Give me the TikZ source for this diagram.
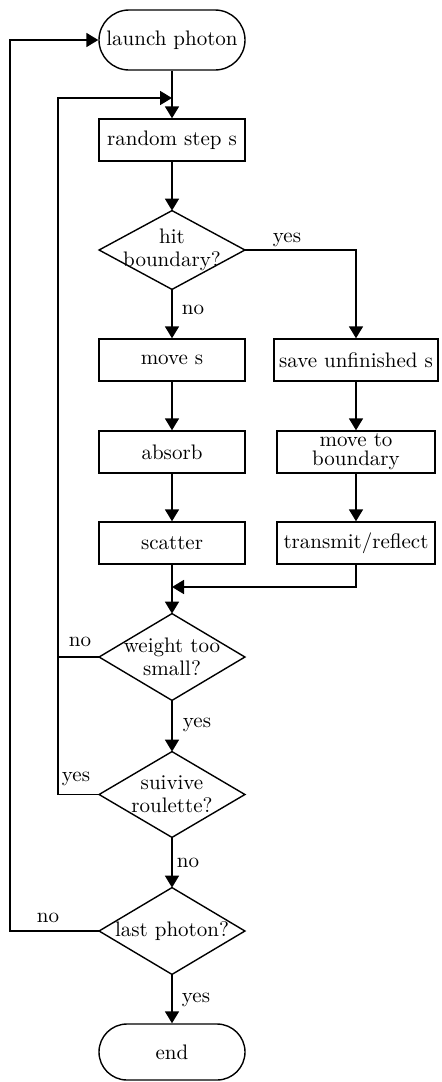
\documentclass[tikz,border=0pt]{standalone}
\usetikzlibrary{arrows.meta}
\begin{document}
\begin{tikzpicture}[x=0.5pt,y=-0.5pt,
  proc/.style={draw, line width=0.7pt, rectangle, minimum width=73pt, minimum height=21pt, inner sep=1pt, align=center, font=\fontsize{10.5}{9.5}\selectfont},
  term/.style={draw, line width=0.7pt, rectangle, rounded corners=15pt, minimum width=73pt, minimum height=30pt, inner sep=1pt, font=\fontsize{10.5}{12}\selectfont},
  decision/.style={minimum width=72.5pt, inner sep=0pt, align=center, font=\fontsize{10.5}{11.5}\selectfont},
  lbl/.style={anchor=base, inner sep=0pt, font=\fontsize{10.5}{12}\selectfont},
  arr/.style={line width=0.9pt, -{Triangle[length=6pt,width=7pt]}},
  plain/.style={line width=0.9pt}]
\useasboundingbox (0,0) rectangle (441,1082);
% nodes
\node[term] (launch) at (172,40) {launch photon};
\node[proc] (rand) at (172,140) {random step s};
\node[decision, minimum height=39pt] (hit) at (172,250) {hit\\boundary?};
\node[proc] (moves) at (172,360) {move s};
\node[proc] (absorb) at (172,452) {absorb};
\node[proc] (scatter) at (172,543) {scatter};
\node[proc, minimum width=82pt] (save) at (356,360) {save unfinished s};
\node[proc, minimum width=79pt] (mtb) at (356,452) {move to\\boundary};
\node[proc, minimum width=79pt] (trans) at (356,543) {transmit/reflect};
\node[decision, minimum height=43pt] (weight) at (172,657) {weight too\\small?};
\node[decision, minimum height=42.5pt] (surv) at (172,794.5) {suivive\\roulette?};
\node[decision, minimum height=43pt] (last) at (172,931) {last photon?};
\node[term, minimum height=28pt, rounded corners=14pt] (end) at (172,1052) {end};
% diamond outlines
\foreach \d in {hit,weight,surv,last}
  \draw[line width=0.7pt] (\d.north) -- (\d.east) -- (\d.south) -- (\d.west) -- cycle;
% junction coordinates
\coordinate (j1) at (172,98);
\coordinate (j2) at (172,587);
\coordinate (c1) at (58,98);
\coordinate (c2) at (10,40);
% connectors
\draw[arr] (launch.south) -- (rand.north);
\draw[arr] (rand.south) -- (hit.north);
\draw[arr] (hit.south) -- (moves.north);
\draw[arr] (moves.south) -- (absorb.north);
\draw[arr] (absorb.south) -- (scatter.north);
\draw[arr] (hit.east) -- (hit.east -| save) -- (save.north);
\draw[arr] (save.south) -- (mtb.north);
\draw[arr] (mtb.south) -- (trans.north);
\draw[arr] (trans.south) -- (trans.south |- j2) -- (j2);
\draw[arr] (scatter.south) -- (weight.north);
\draw[arr] (weight.south) -- (surv.north);
\draw[arr] (surv.south) -- (last.north);
\draw[arr] (last.south) -- (end.north);
\draw[arr] (weight.west) -- (weight.west -| c1) -- (c1) -- (j1);
\draw[plain] (surv.west) -- (surv.west -| c1) -- (weight.west -| c1);
\draw[arr] (last.west) -- (last.west -| c2) -- (c2) -- (launch.west);
% labels
\node[lbl] (l1) at (287,242) {yes};
\node[lbl] (l2) at (193,314) {no};
\node[lbl] (l3) at (80,646) {no};
\node[lbl] (l4) at (197,727) {yes};
\node[lbl] (l5) at (76,781) {yes};
\node[lbl] (l6) at (188,867) {no};
\node[lbl] (l7) at (48,922) {no};
\node[lbl] (l8) at (196,1002) {yes};
\end{tikzpicture}
\end{document}
